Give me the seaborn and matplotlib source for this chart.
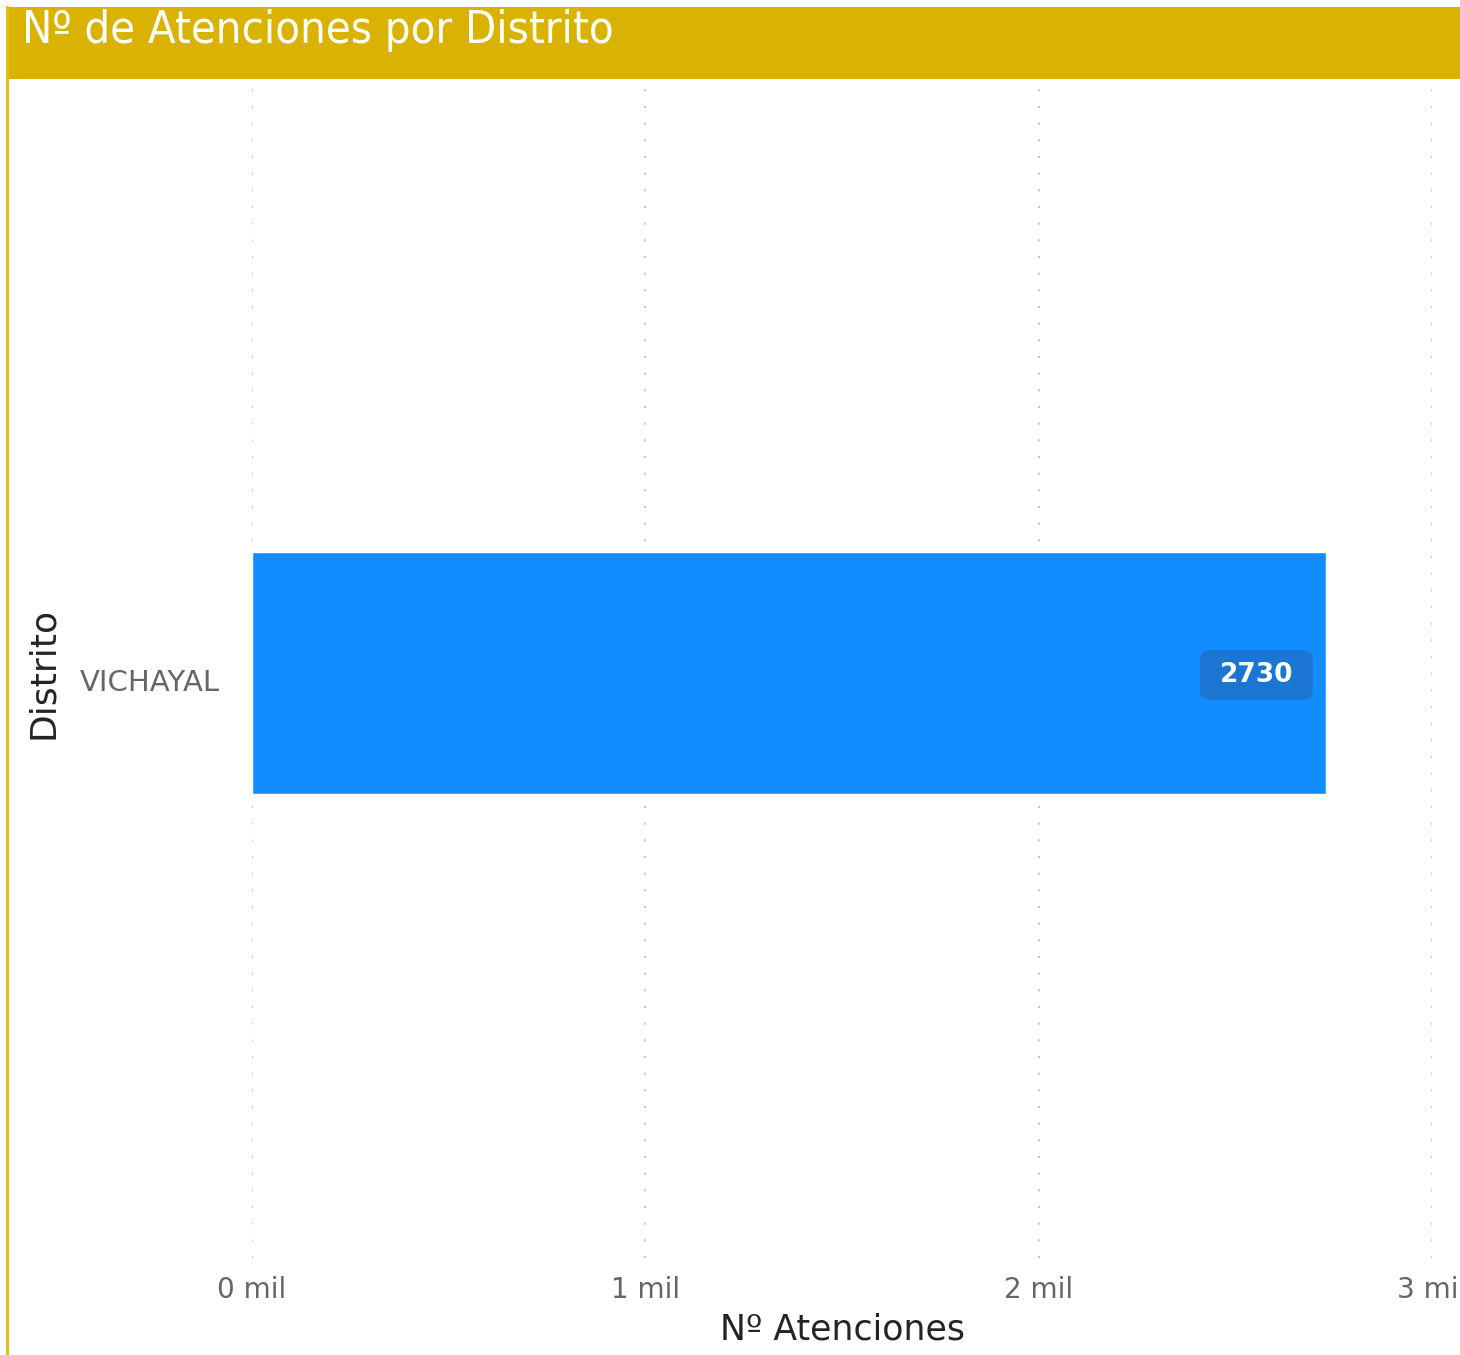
import matplotlib
matplotlib.use("Agg")
import matplotlib.pyplot as plt
import matplotlib.transforms as mtransforms
import seaborn as sns
import pandas as pd
from matplotlib.patches import Rectangle, BoxStyle
from matplotlib.ticker import FuncFormatter

# ---- data ----
distritos = ["VICHAYAL"]
atenciones = [2730]
x_ticks = [0, 1000, 2000, 3000]

title = "Nº de Atenciones por Distrito"
x_label = "Nº Atenciones"
y_label = "Distrito"

df = pd.DataFrame({"Distrito": distritos, "Atenciones": atenciones})

sns.set_theme(style="white")
plt.rcParams["font.family"] = ["DejaVu Sans"]

W, H = 1460, 1355
fig = plt.figure(figsize=(W / 100, H / 100), dpi=100)
fig.patch.set_facecolor("white")

left, right = 252 / W, 1432 / W
top, bottom = 1 - 88 / H, 1 - 1258 / H
ax = fig.add_axes([left, bottom, right - left, top - bottom])
ax.set_facecolor("white")

sns.barplot(data=df, x="Atenciones", y="Distrito", orient="h",
            color="#118DFF", saturation=1, width=0.207, ax=ax, zorder=3)

ax.set_xlim(x_ticks[0], x_ticks[-1])
ax.set_ylim(0.5, -0.5)
ax.set_xticks(x_ticks)
ax.xaxis.set_major_formatter(FuncFormatter(lambda v, p: f"{int(round(v / 1000))} mil"))
ax.grid(axis="x", color="#C8C6C4", linestyle=(0, (1, 7)), linewidth=1.5, zorder=0)
ax.grid(axis="y", visible=False)
for s in ax.spines.values():
    s.set_visible(False)
ax.tick_params(axis="both", length=0)
ax.tick_params(axis="x", labelsize=20, labelcolor="#666666", pad=13)
ax.tick_params(axis="y", labelsize=21, labelcolor="#666666", pad=23)
shift = mtransforms.ScaledTranslation(0, -7 / 100, fig.dpi_scale_trans)
for lab in ax.get_yticklabels():
    lab.set_transform(lab.get_transform() + shift)

ax.set_xlabel(x_label, fontsize=25, color="#252423", labelpad=6)
ax.set_ylabel(y_label, fontsize=26, color="#252423")
ax.yaxis.set_label_coords(-(252 - 60) / 1180, 0.5)


def wide_round(x0, y0, width, height, mutation_size):
    extra = 0.3 * mutation_size
    base = BoxStyle.Round(pad=0.45, rounding_size=0.4)
    return base(x0 - extra, y0, width + 2 * extra, height, mutation_size)


# data label
for i, v in enumerate(atenciones):
    ax.annotate(f"{v}", xy=(v, i), xytext=(-50, -1.5), textcoords="offset points",
                ha="center", va="center", fontsize=19, fontweight="bold", color="white",
                bbox=dict(boxstyle=wide_round, facecolor="#1B76D3", edgecolor="none"),
                zorder=5)

# header band and border
fig.patches.append(Rectangle((7 / W, 1 - 79 / H), 1 - 7 / W, 72 / H,
                             transform=fig.transFigure, facecolor="#DAB302",
                             edgecolor="none", zorder=0))
fig.patches.append(Rectangle((6 / W, 0), 2.5 / W, 1 - 6 / H,
                             transform=fig.transFigure, facecolor="#E3BE16",
                             edgecolor="none", zorder=0))
fig.text(22 / W, 1 - 30 / H, title, fontsize=32.5, color="white",
         ha="left", va="center", fontstretch="condensed")

fig.savefig("out.png", dpi=100, facecolor="white")
